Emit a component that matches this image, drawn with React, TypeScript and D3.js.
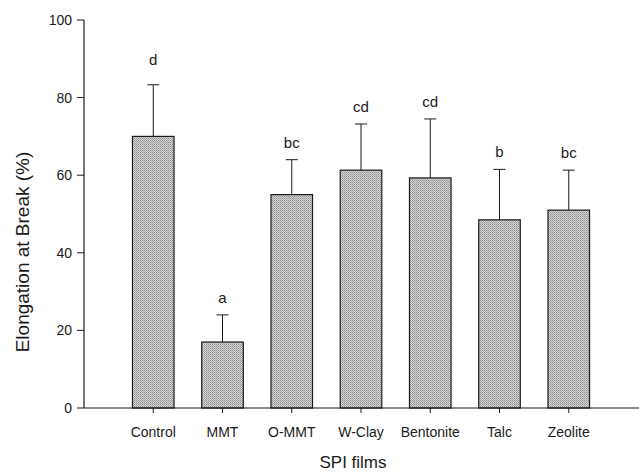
import React from 'react';
import * as d3 from 'd3';

const width = 640;
const height = 473;

const films = ['Control', 'MMT', 'O-MMT', 'W-Clay', 'Bentonite', 'Talc', 'Zeolite'];
const elongation = [70, 17, 55, 61.3, 59.3, 48.5, 51];
const errorTop = [83.3, 24, 64, 73.2, 74.5, 61.5, 61.3];
const letters = ['d', 'a', 'bc', 'cd', 'cd', 'b', 'bc'];
const yTicks = [0, 20, 40, 60, 80, 100];

const axisLeft = 84;
const axisRight = 639;
const step = 69.25;

const x = d3.scaleBand<string>()
  .domain(films)
  .range([axisLeft + step / 2, axisLeft + step * 7.5])
  .paddingInner(0.4)
  .paddingOuter(0.2);

const y = d3.scaleLinear()
  .domain([0, 100])
  .range([408, 20]);

const font = '"Liberation Sans", Arial, sans-serif';
const ink = '#1a1a1a';
const capWidth = 12;

const App = () => (
  <svg width={width} height={height}
    style={{ position: 'absolute', left: 0, top: 0, background: 'white' }}>
    <defs>
      <pattern id="stipple" width="2" height="2" patternUnits="userSpaceOnUse">
        <rect width="2" height="2" fill="#d4d4d4" />
        <rect width="1" height="1" fill="#8e8e8e" />
        <rect x="1" y="1" width="1" height="1" fill="#a8a8a8" />
      </pattern>
    </defs>

    {/* bars */}
    {films.map((f, i) => (
      <rect key={f}
        x={x(f)}
        y={y(elongation[i])}
        width={x.bandwidth()}
        height={y(0) - y(elongation[i])}
        fill="url(#stipple)"
        stroke={ink}
        strokeWidth={1.2}
      />
    ))}

    {/* error bars, upper only */}
    {films.map((f, i) => {
      const cx = x(f)! + x.bandwidth() / 2;
      return (
        <g key={f} stroke={ink} strokeWidth={1}>
          <line x1={cx} x2={cx} y1={y(elongation[i])} y2={y(errorTop[i])} />
          <line x1={cx - capWidth / 2} x2={cx + capWidth / 2}
            y1={y(errorTop[i])} y2={y(errorTop[i])} />
        </g>
      );
    })}

    {/* significance letters */}
    {films.map((f, i) => (
      <text key={f}
        x={x(f)! + x.bandwidth() / 2}
        y={y(errorTop[i]) - (i === 0 ? 20 : 12)}
        textAnchor="middle"
        fontFamily={font}
        fontSize={15}
        fill={ink}>
        {letters[i]}
      </text>
    ))}

    {/* axes */}
    <line x1={axisLeft} x2={axisLeft} y1={y(100)} y2={y(0)} stroke={ink} strokeWidth={1.2} />
    <line x1={axisLeft} x2={axisRight} y1={y(0)} y2={y(0)} stroke={ink} strokeWidth={1.2} />

    {yTicks.map(t => (
      <g key={t}>
        <line x1={axisLeft - 7} x2={axisLeft} y1={y(t)} y2={y(t)} stroke={ink} strokeWidth={1} />
        <text x={axisLeft - 12} y={y(t)} dy="0.35em" textAnchor="end"
          fontFamily={font} fontSize={14} fill={ink}>{t}</text>
      </g>
    ))}

    {films.map(f => {
      const cx = x(f)! + x.bandwidth() / 2;
      return (
        <g key={f}>
          <line x1={cx} x2={cx} y1={y(0)} y2={y(0) + 5} stroke={ink} strokeWidth={1} />
          <text x={cx} y={437} textAnchor="middle"
            fontFamily={font} fontSize={14} fill={ink}>{f}</text>
        </g>
      );
    })}

    <text x={353} y={468} textAnchor="middle" fontFamily={font} fontSize={17} fill={ink}>
      SPI films
    </text>
    <text transform={`translate(29,${252}) rotate(-90)`} textAnchor="middle"
      fontFamily={font} fontSize={19} fill={ink}>
      Elongation at Break (%)
    </text>
  </svg>
);

export default App;
